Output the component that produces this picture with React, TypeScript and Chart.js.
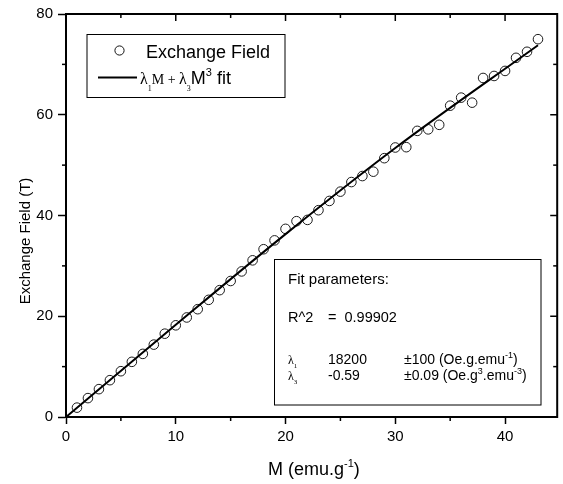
import React, { useEffect, useRef } from 'react';
import { Chart, registerables } from 'chart.js';

Chart.register(...registerables);

// ---- data ----
const magnetization = [
  1, 2, 3, 4, 5, 6, 7, 8, 9, 10,
  11, 12, 13, 14, 15, 16, 17, 18, 19, 20,
  21, 22, 23, 24, 25, 26, 27, 28, 29, 30,
  31, 32, 33, 34, 35, 36, 37, 38, 39, 40,
  41, 42, 43,
];
const exchangeField = [
  1.86, 3.75, 5.53, 7.31, 9.09, 10.95, 12.53, 14.37, 16.54, 18.2,
  19.76, 21.4, 23.26, 25.18, 27.0, 28.9, 31.1, 33.3, 35.06, 37.35,
  38.87, 39.13, 41.05, 42.89, 44.74, 46.64, 47.83, 48.7, 51.38, 53.5,
  53.56, 56.8, 57.1, 58.0, 61.8, 63.4, 62.4, 67.3, 67.7, 68.7,
  71.3, 72.5, 75.0,
];
const fitM = [0, 10, 20, 30, 43];
const fitField = [0, 18.3, 36.3, 53.4, 73.8];

const xMajorTicks = [0, 10, 20, 30, 40];
const xMinorTicks = [5, 15, 25, 35];
const yMajorTicks = [0, 20, 40, 60, 80];
const yMinorTicks = [10, 30, 50, 70];

const SANS = '"Liberation Sans", Arial, sans-serif';
const SERIF = '"Liberation Serif", "Times New Roman", serif';

type Seq = { t: string; size: number; fam?: string; dy?: number };
function drawSeq(ctx: CanvasRenderingContext2D, x: number, baseline: number, parts: Seq[]) {
  let cx = x;
  for (const p of parts) {
    ctx.font = `${p.size}px ${p.fam || SANS}`;
    ctx.fillText(p.t, cx, baseline + (p.dy || 0));
    cx += ctx.measureText(p.t).width;
  }
}

const decorPlugin = {
  id: 'decor',
  afterDraw(chart: any) {
    const { ctx, chartArea: a } = chart;
    const xs = chart.scales.x;
    const ys = chart.scales.y;
    ctx.save();
    ctx.strokeStyle = '#000';
    ctx.fillStyle = '#000';
    ctx.textAlign = 'left';
    ctx.textBaseline = 'alphabetic';

    // top and right frame
    ctx.lineWidth = 2;
    ctx.beginPath();
    ctx.moveTo(a.left - 1, a.top);
    ctx.lineTo(a.right, a.top);
    ctx.lineTo(a.right, a.bottom + 1);
    ctx.stroke();

    const tick = (x1: number, y1: number, x2: number, y2: number) => {
      ctx.beginPath();
      ctx.moveTo(x1, y1);
      ctx.lineTo(x2, y2);
      ctx.stroke();
    };
    ctx.lineWidth = 1.5;
    for (const v of xMajorTicks) {
      const px = xs.getPixelForValue(v);
      tick(px, a.top, px, a.top + 7);
    }
    for (const v of xMinorTicks) {
      const px = xs.getPixelForValue(v);
      tick(px, a.bottom, px, a.bottom + 4);
      tick(px, a.top, px, a.top + 4);
    }
    for (const v of yMajorTicks) {
      const py = ys.getPixelForValue(v);
      tick(a.right, py, a.right - 7, py);
    }
    for (const v of yMinorTicks) {
      const py = ys.getPixelForValue(v);
      tick(a.left, py, a.left - 4, py);
      tick(a.right, py, a.right - 4, py);
    }

    // axis titles
    drawSeq(ctx, 268, 475, [
      { t: 'M (emu.g', size: 18 },
      { t: '-1', size: 11, dy: -8 },
      { t: ')', size: 18 },
    ]);
    ctx.save();
    ctx.translate(30, 241);
    ctx.rotate(-Math.PI / 2);
    ctx.textAlign = 'center';
    ctx.font = `15px ${SANS}`;
    ctx.fillText('Exchange Field (T)', 0, 0);
    ctx.restore();

    // legend box
    ctx.lineWidth = 1;
    ctx.fillStyle = '#fff';
    ctx.fillRect(87, 34.5, 198, 63);
    ctx.strokeRect(87, 34.5, 198, 63);
    ctx.fillStyle = '#000';
    ctx.beginPath();
    ctx.arc(119.5, 50.5, 4.6, 0, Math.PI * 2);
    ctx.strokeStyle = '#111';
    ctx.stroke();
    ctx.strokeStyle = '#000';
    ctx.font = `18px ${SANS}`;
    ctx.fillText('Exchange Field', 146, 57.5);
    ctx.lineWidth = 2;
    tick(98, 77.5, 137, 77.5);
    drawSeq(ctx, 140, 83.5, [
      { t: 'λ', size: 16, fam: SERIF },
      { t: '1', size: 8, fam: SERIF, dy: 7 },
      { t: 'M', size: 14, fam: SERIF },
      { t: ' + ', size: 14, fam: SERIF },
      { t: 'λ', size: 16, fam: SERIF },
      { t: '3', size: 8, fam: SERIF, dy: 7 },
      { t: 'M', size: 18, fam: SANS },
      { t: '3', size: 11, fam: SANS, dy: -8 },
      { t: ' fit', size: 18, fam: SANS },
    ]);

    // fit parameters box
    ctx.lineWidth = 1;
    ctx.fillStyle = '#fff';
    ctx.fillRect(274.5, 259.5, 266.5, 145.5);
    ctx.strokeRect(274.5, 259.5, 266.5, 145.5);
    ctx.fillStyle = '#000';
    ctx.font = `15px ${SANS}`;
    ctx.fillText('Fit parameters:', 288, 283.5);
    ctx.font = `14.5px ${SANS}`;
    ctx.fillText('R^2', 288, 321.5);
    ctx.fillText('=  0.99902', 328, 321.5);

    drawSeq(ctx, 288, 363.5, [
      { t: 'λ', size: 12, fam: SERIF },
      { t: '1', size: 7, fam: SERIF, dy: 4 },
    ]);
    ctx.font = `14px ${SANS}`;
    ctx.fillText('18200', 328, 363.5);
    drawSeq(ctx, 404, 363.5, [
      { t: '±100 (Oe.g.emu', size: 14 },
      { t: '-1', size: 9, dy: -6 },
      { t: ')', size: 14 },
    ]);

    drawSeq(ctx, 288, 379.5, [
      { t: 'λ', size: 12, fam: SERIF },
      { t: '3', size: 7, fam: SERIF, dy: 4 },
    ]);
    ctx.font = `14px ${SANS}`;
    ctx.fillText('-0.59', 328, 379.5);
    drawSeq(ctx, 404, 379.5, [
      { t: '±0.09 (Oe.g', size: 14 },
      { t: '3', size: 9, dy: -6 },
      { t: '.emu', size: 14 },
      { t: '-3', size: 9, dy: -6 },
      { t: ')', size: 14 },
    ]);

    ctx.restore();
  },
};

export default function App() {
  const ref = useRef<HTMLCanvasElement>(null);

  useEffect(() => {
    if (!ref.current) return;
    const chart = new Chart(ref.current, {
      type: 'scatter',
      data: {
        datasets: [
          {
            label: 'λ1M + λ3M3 fit',
            data: fitM.map((m, i) => ({ x: m, y: fitField[i] })),
            showLine: true,
            borderColor: '#000',
            borderWidth: 2,
            pointRadius: 0,
            cubicInterpolationMode: 'monotone',
            fill: false,
          } as any,
          {
            label: 'Exchange Field',
            data: magnetization.map((m, i) => ({ x: m, y: exchangeField[i] })),
            pointStyle: 'circle',
            pointRadius: 4.8,
            pointBorderWidth: 1,
            borderColor: '#1a1a1a',
            backgroundColor: 'rgba(0,0,0,0)',
            showLine: false,
          } as any,
        ],
      },
      options: {
        responsive: false,
        devicePixelRatio: 1,
        animation: false,
        layout: { padding: { top: 12, right: 2, left: 0, bottom: 0 } },
        plugins: {
          legend: { display: false },
          tooltip: { enabled: false },
        },
        scales: {
          x: {
            type: 'linear',
            min: 0,
            max: 44.75,
            afterBuildTicks: (s: any) => {
              s.ticks = xMajorTicks.map((v) => ({ value: v }));
            },
            afterFit: (s: any) => {
              s.height = 67;
            },
            ticks: {
              color: '#000',
              font: { family: SANS, size: 15 },
              padding: 4,
              maxRotation: 0,
              autoSkip: false,
            },
            grid: {
              display: true,
              drawOnChartArea: false,
              drawTicks: true,
              tickLength: 7,
              tickWidth: 1.5,
              tickColor: '#000',
            },
            border: { display: true, color: '#000', width: 2 },
          },
          y: {
            type: 'linear',
            min: 0,
            max: 80,
            afterBuildTicks: (s: any) => {
              s.ticks = yMajorTicks.map((v) => ({ value: v }));
            },
            afterFit: (s: any) => {
              s.width = 66;
            },
            ticks: {
              color: '#000',
              font: { family: SANS, size: 15 },
              padding: 5,
              autoSkip: false,
            },
            grid: {
              display: true,
              drawOnChartArea: false,
              drawTicks: true,
              tickLength: 8,
              tickWidth: 1.5,
              tickColor: '#000',
            },
            border: { display: true, color: '#000', width: 2 },
          },
        },
      } as any,
      plugins: [decorPlugin],
    });
    return () => chart.destroy();
  }, []);

  return (
    <div style={{ position: 'fixed', left: 0, top: 0, width: 563, height: 484, background: '#fff' }}>
      <canvas ref={ref} width={563} height={484} style={{ display: 'block', width: 563, height: 484 }} />
    </div>
  );
}
